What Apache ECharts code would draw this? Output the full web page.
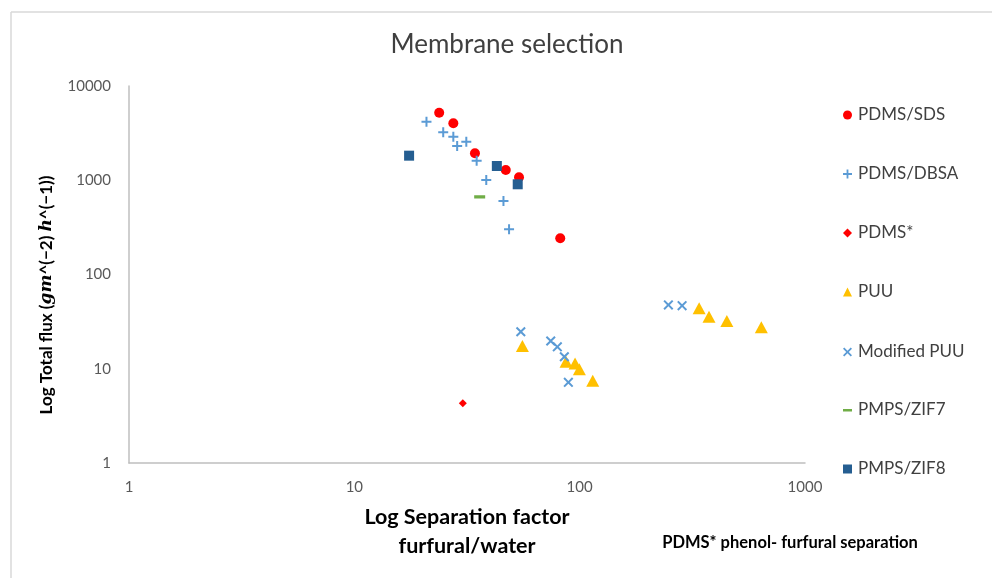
<!DOCTYPE html>
<html><head><meta charset="utf-8">
<script src="https://cdn.jsdelivr.net/npm/echarts@6/dist/echarts.min.js"></script>
<style>html,body{margin:0;padding:0;background:#fff}#c{width:992px;height:578px}</style>
</head><body><div id="c"></div>
<script>
// ---- data (separation factor, total flux) ----
const sdsX = [23.8, 27.5, 34.3, 47, 53.8, 82];
const sdsY = [5210, 4020, 1930, 1285, 1075, 242];
const dbsaX = [20.9, 24.8, 27.5, 28.6, 31.4, 34.9, 38.5, 45.9, 48.6];
const dbsaY = [4180, 3228, 2900, 2308, 2565, 1612, 1006, 602, 302];
const pdmsStarX = [30.3];
const pdmsStarY = [4.3];
const puuX = [55.7, 87, 95.4, 99.7, 114.3, 339, 375, 450, 640];
const puuY = [17.4, 11.9, 11.4, 9.87, 7.47, 43.8, 35.7, 32.1, 27.5];
const modPuuX = [54.8, 74.4, 79.6, 85.5, 89.1, 247.6, 284.8];
const modPuuY = [24.7, 19.7, 17.1, 13.4, 7.18, 47.5, 46.7];
const zif7X = [36];
const zif7Y = [670];
const zif8X = [17.5, 42.9, 53.1];
const zif8Y = [1823, 1417, 906];
const seriesNames = ['PDMS/SDS', 'PDMS/DBSA', 'PDMS*', 'PUU', 'Modified PUU', 'PMPS/ZIF7', 'PMPS/ZIF8'];
const xTicks = [1, 10, 100, 1000];
const yTicks = [1, 10, 100, 1000, 10000];

const FONT = 'Lato';
const pair = (xs, ys) => xs.map((x, i) => [x, ys[i]]);

const PLUS = 'path://M4,0H6V4H10V6H6V10H4V6H0V4H4Z';
const CROSS = 'path://M1.4,0L5,3.6L8.6,0L10,1.4L6.4,5L10,8.6L8.6,10L5,6.4L1.4,10L0,8.6L3.6,5L0,1.4Z';
const DASH = 'path://M0,0L0.01,0Z M0,3.8H10V6.6H0Z M0,10L0.01,10Z';

const specs = [
  {name: seriesNames[0], d: pair(sdsX, sdsY), symbol: 'circle', size: 10, color: '#FF0000'},
  {name: seriesNames[1], d: pair(dbsaX, dbsaY), symbol: PLUS, size: 10, color: '#5B9BD5'},
  {name: seriesNames[2], d: pair(pdmsStarX, pdmsStarY), symbol: 'diamond', size: 8, color: '#FF0000'},
  {name: seriesNames[3], d: pair(puuX, puuY), symbol: 'triangle', size: [13, 12], color: '#FFC000'},
  {name: seriesNames[4], d: pair(modPuuX, modPuuY), symbol: CROSS, size: 10, color: '#5B9BD5'},
  {name: seriesNames[5], d: pair(zif7X, zif7Y), symbol: DASH, size: 11, color: '#70AD47'},
  {name: seriesNames[6], d: pair(zif8X, zif8Y), symbol: 'rect', size: 10, color: '#255E91'}
];

const legendCenters = [114, 173, 232, 291, 351, 409, 468];

const chart = echarts.init(document.getElementById('c'), null, {renderer: 'canvas'});
chart.setOption({
  animation: false,
  backgroundColor: '#fff',
  grid: {left: 129, right: 187, top: 86, bottom: 115, containLabel: false},
  xAxis: {
    type: 'log', logBase: 10, min: 1, max: 1000,
    axisLine: {show: true, lineStyle: {color: '#BFBFBF', width: 1.5}},
    axisTick: {show: false}, splitLine: {show: false},
    axisLabel: {color: '#595959', fontFamily: FONT, fontSize: 15, margin: 17,
      formatter: v => xTicks.includes(Math.round(v)) ? String(Math.round(v)) : ''}
  },
  yAxis: {
    type: 'log', logBase: 10, min: 1, max: 10000,
    axisLine: {show: true, lineStyle: {color: '#BFBFBF', width: 1.5}},
    axisTick: {show: false}, splitLine: {show: false},
    axisLabel: {color: '#595959', fontFamily: FONT, fontSize: 15, margin: 18,
      formatter: v => yTicks.includes(Math.round(v)) ? String(Math.round(v)) : ''}
  },
  legend: legendCenters.map((c, i) => ({
    data: [{name: seriesNames[i], icon: specs[i].symbol}],
    orient: 'vertical', left: 838, top: c - 14,
    itemWidth: 9, itemHeight: 9, itemGap: 0,
    selectedMode: false,
    textStyle: {color: '#404040', fontFamily: FONT, fontSize: 17, lineHeight: 20, padding: [0, 0, 0, 1]}
  })),
  series: specs.map(s => ({
    name: s.name, type: 'scatter', data: s.d,
    symbol: s.symbol, symbolSize: s.size,
    itemStyle: {color: s.color, opacity: 1},
    emphasis: {disabled: true}
  })),
  graphic: [
    {type: 'line', shape: {x1: 11, y1: 12, x2: 992, y2: 12}, style: {stroke: '#D9D9D9', lineWidth: 1.5}, silent: true},
    {type: 'line', shape: {x1: 11, y1: 12, x2: 11, y2: 578}, style: {stroke: '#D9D9D9', lineWidth: 1.5}, silent: true},
    {type: 'text', x: 507, y: 45, style: {text: 'Membrane selection', fontFamily: FONT, fontSize: 26, fill: '#404040', textAlign: 'center', textVerticalAlign: 'middle'}},
    {type: 'text', x: 47, y: 295, rotation: Math.PI / 2,
      style: {text: 'Log Total flux ({i|gm}^(−2) {i|h}^(−1))', fontFamily: FONT, fontWeight: 'bold', fontSize: 17, fill: '#000',
        textAlign: 'center', textVerticalAlign: 'middle',
        rich: {i: {fontFamily: 'DejaVu Serif', fontStyle: 'italic', fontWeight: 'bold', fontSize: 17, fill: '#000'}}}},
    {type: 'text', x: 467, y: 517, style: {text: 'Log Separation factor', fontFamily: FONT, fontWeight: 'bold', fontSize: 21.5, fill: '#000', textAlign: 'center', textVerticalAlign: 'middle'}},
    {type: 'text', x: 467, y: 546, style: {text: 'furfural/water', fontFamily: FONT, fontWeight: 'bold', fontSize: 21.5, fill: '#000', textAlign: 'center', textVerticalAlign: 'middle'}},
    {type: 'text', x: 790, y: 543, style: {text: 'PDMS* phenol- furfural separation', fontFamily: FONT, fontWeight: 'bold', fontSize: 16.5, fill: '#000', textAlign: 'center', textVerticalAlign: 'middle'}}
  ]
});
</script></body></html>
